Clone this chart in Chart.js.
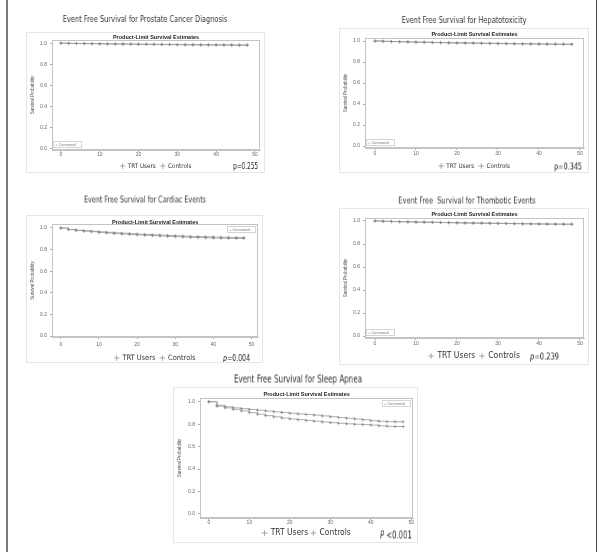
<!DOCTYPE html>
<html>
<head>
<meta charset="utf-8">
<script src="https://cdn.jsdelivr.net/npm/chart.js@4.4.1/dist/chart.umd.min.js"></script>
<style>
  body { margin: 0; background: #fff; }
  #page { position: relative; width: 597px; height: 552px; overflow: hidden; font-family: "DejaVu Sans Condensed", "Liberation Sans", sans-serif; }
  #edge { position: absolute; left: 6px; top: 0; width: 588px; height: 552px; border-left: 2px solid #7a7a7a; border-right: 1px solid #444; }
  .ttl { position: absolute; color: #333; white-space: nowrap; will-change: transform; }
  .pv { position: absolute; color: #222; white-space: nowrap; transform-origin: 0 50%; will-change: transform; }
  canvas { position: absolute; }
</style>
</head>
<body>
<div id="page"><div id="edge"></div></div>
<script>
const months = [0, 2, 4, 6, 8, 10, 12, 14, 16, 18, 20, 22, 24, 26, 28, 30, 32, 34, 36, 38, 40, 42, 44, 46, 48];
const xTicks = [0, 10, 20, 30, 40, 50];
const yTicks = [0, 0.2, 0.4, 0.6, 0.8, 1.0];
const seriesNames = ['TRT Users', 'Controls'];

const prostTrt = [1.000, 0.998, 0.997, 0.996, 0.995, 0.994, 0.993, 0.992, 0.991, 0.990, 0.989, 0.988, 0.988, 0.987, 0.986, 0.985, 0.985, 0.984, 0.983, 0.983, 0.982, 0.982, 0.981, 0.981, 0.981];
const prostCtl = [1.000, 0.998, 0.997, 0.996, 0.996, 0.995, 0.994, 0.993, 0.992, 0.991, 0.990, 0.990, 0.989, 0.988, 0.988, 0.987, 0.986, 0.986, 0.985, 0.985, 0.984, 0.984, 0.983, 0.983, 0.983];

const hepTrt = [1.000, 0.997, 0.995, 0.993, 0.991, 0.989, 0.987, 0.985, 0.984, 0.982, 0.981, 0.980, 0.979, 0.977, 0.976, 0.975, 0.974, 0.973, 0.972, 0.971, 0.970, 0.969, 0.968, 0.968, 0.968];
const hepCtl = [1.000, 0.997, 0.995, 0.994, 0.992, 0.990, 0.989, 0.987, 0.986, 0.984, 0.983, 0.982, 0.981, 0.980, 0.979, 0.978, 0.977, 0.976, 0.975, 0.974, 0.973, 0.972, 0.971, 0.971, 0.971];

const cardTrt = [1.000, 0.985, 0.977, 0.971, 0.965, 0.958, 0.953, 0.948, 0.944, 0.940, 0.936, 0.932, 0.929, 0.926, 0.922, 0.919, 0.916, 0.913, 0.911, 0.909, 0.907, 0.905, 0.904, 0.903, 0.903];
const cardCtl = [1.000, 0.987, 0.980, 0.975, 0.970, 0.965, 0.960, 0.955, 0.951, 0.947, 0.943, 0.940, 0.937, 0.934, 0.931, 0.928, 0.925, 0.922, 0.920, 0.918, 0.916, 0.914, 0.913, 0.912, 0.912];

const thrTrt = [1.000, 0.997, 0.995, 0.993, 0.992, 0.990, 0.989, 0.987, 0.986, 0.985, 0.983, 0.982, 0.981, 0.980, 0.979, 0.978, 0.977, 0.976, 0.975, 0.974, 0.973, 0.972, 0.971, 0.971, 0.971];
const thrCtl = [1.000, 0.998, 0.996, 0.994, 0.993, 0.991, 0.990, 0.989, 0.987, 0.986, 0.985, 0.984, 0.983, 0.982, 0.981, 0.980, 0.979, 0.978, 0.977, 0.976, 0.975, 0.974, 0.974, 0.973, 0.973];

const sleepTrt = [1.000, 0.960, 0.945, 0.932, 0.918, 0.903, 0.889, 0.876, 0.865, 0.855, 0.846, 0.840, 0.833, 0.826, 0.819, 0.813, 0.808, 0.803, 0.799, 0.796, 0.792, 0.785, 0.781, 0.779, 0.779];
const sleepCtl = [1.000, 0.968, 0.955, 0.945, 0.938, 0.931, 0.924, 0.917, 0.910, 0.903, 0.897, 0.891, 0.886, 0.880, 0.873, 0.866, 0.859, 0.853, 0.846, 0.839, 0.831, 0.826, 0.822, 0.821, 0.821];

const titles = [
  'Event Free Survival for Prostate Cancer Diagnosis',
  'Event Free Survival for Hepatotoxicity',
  'Event Free Survival for Cardiac Events',
  'Event Free\u00a0 Survival for Thombotic Events',
  'Event Free Survival for Sleep Apnea'
];
const pLabels = [['p', '=0.255'], ['p', '=0.345'], ['p', '=0.004'], ['p', '=0.239'], ['P', ' <0.001']];

const COND = '"DejaVu Sans Condensed", "Liberation Sans", sans-serif';
const SANS = '"Liberation Sans", Arial, sans-serif';
const LEG_GAP = 5;
const TICK_FONT = 5;

// frame box, plot area and text spots, all in page pixels
const panels = [
  { trt: prostTrt, ctl: prostCtl, frame: [26, 32, 239, 141], area: [52, 40, 260, 150], innerY: 37.3,
    x: [-2.3, 51.3], y: [-0.01, 1.03], xPad: 0, legY: 166, legSize: 6.3, corner: 'bl',
    tx: 145, ty: 19, tSize: 8.5, tw: 165, px: 233, py: 166, pSize: 9, pw: 25, pItalic: false },
  { trt: hepTrt, ctl: hepCtl, frame: [339, 28, 250, 145], area: [365, 38, 584, 148], innerY: 34,
    x: [-2.44, 50.98], y: [-0.019, 1.029], xPad: 1.5, legY: 166, legSize: 6.3, corner: 'bl',
    tx: 464, ty: 20, tSize: 8.5, tw: 125, px: 554, py: 166, pSize: 9.5, pw: 28, pItalic: false },
  { trt: cardTrt, ctl: cardCtl, frame: [26, 215, 237, 148], area: [52, 224, 262, 337], innerY: 222.7,
    x: [-2.32, 51.8], y: [-0.009, 1.037], xPad: 3.5, legY: 358, legSize: 7.4, corner: 'tr',
    tx: 145, ty: 200, tSize: 8, tw: 122, px: 223, py: 358, pSize: 9, pw: 27, pItalic: true },
  { trt: thrTrt, ctl: thrCtl, frame: [339, 208, 250, 157], area: [365, 218, 584, 338], innerY: 214.3,
    x: [-2.44, 50.98], y: [-0.017, 1.026], xPad: 1.5, legY: 356, legSize: 8.5, corner: 'bl',
    tx: 467, ty: 200, tSize: 9.5, tw: 137, px: 530, py: 356, pSize: 9.5, pw: 29, pItalic: true },
  { trt: sleepTrt, ctl: sleepCtl, frame: [173, 387, 245, 156], area: [200, 398, 415, 518], innerY: 394,
    x: [-2.2, 50.5], y: [-0.036, 1.033], xPad: 0, legY: 533, legSize: 8.4, corner: 'tr',
    tx: 298, ty: 379, tSize: 10, tw: 128, px: 380, py: 535, pSize: 11, pw: 32, pItalic: true }
];

const kmBox = {
  id: 'kmBox',
  afterDraw(chart, args, opts) {
    const { ctx, chartArea: a, width, height } = chart;
    ctx.save();
    ctx.lineWidth = 1;
    ctx.strokeStyle = '#e6e6e6';
    ctx.strokeRect(0.5, 0.5, width - 1, height - 1);
    ctx.strokeStyle = '#c4c4c4';
    ctx.strokeRect(Math.round(a.left) + 0.5, Math.round(a.top) + 0.5, Math.round(a.width) - 1, Math.round(a.height) - 1);
    // censored inset legend
    const w = 28, h = 6;
    let x = Math.round(a.left) + 1, y = Math.round(a.bottom) - h - 3;
    if (opts.corner === 'tr') { x = Math.round(a.right) - w - 3; y = Math.round(a.top) + 2; }
    ctx.strokeStyle = '#d4d4d4';
    ctx.strokeRect(x + 0.5, y + 0.5, w, h);
    ctx.fillStyle = '#777';
    ctx.font = '4px ' + SANS;
    ctx.textBaseline = 'middle';
    ctx.fillText('+ Censored', x + 2, y + h / 2 + 0.5);
    ctx.restore();
  }
};

const page = document.getElementById('page');

panels.forEach((p, i) => {
  const [fl, ft, fw, fh] = p.frame;
  const [al, at, ar, ab] = p.area;

  // outer heading, squeezed to the narrow look of the original
  const t = document.createElement('div');
  t.className = 'ttl';
  t.style.left = p.tx + 'px';
  t.style.top = p.ty + 'px';
  t.style.fontSize = p.tSize + 'px';
  t.textContent = titles[i];
  page.appendChild(t);
  const tk = p.tw / t.offsetWidth;
  t.style.transform = 'translate(-50%, -50%) scaleX(' + tk + ')';

  const pv = document.createElement('div');
  pv.className = 'pv';
  pv.style.left = p.px + 'px';
  pv.style.top = p.py + 'px';
  pv.style.fontSize = p.pSize + 'px';
  pv.innerHTML = (p.pItalic ? '<i>' + pLabels[i][0] + '</i>' : pLabels[i][0]) + pLabels[i][1].replace(' ', '&nbsp;');
  page.appendChild(pv);
  const pk = p.pw / pv.offsetWidth;
  pv.style.transform = 'translateY(-50%) scaleX(' + pk + ')';

  const cv = document.createElement('canvas');
  cv.width = fw; cv.height = fh;
  cv.style.left = fl + 'px'; cv.style.top = ft + 'px';
  cv.style.width = fw + 'px'; cv.style.height = fh + 'px';
  page.appendChild(cv);

  const titleLine = 5.5;
  const tp = (p.innerY - ft) - titleLine / 2;
  const pb = (at - ft) - tp - titleLine;
  // x scale must hold its labels (they are clipped to it); legend sits right below
  const xhMin = 2 + p.xPad + TICK_FONT + 0.5;
  const legTop = Math.max((ab - ft) + xhMin, (p.legY - ft) - LEG_GAP - p.legSize / 2);
  const legPad = (p.legY - ft) - legTop - p.legSize / 2;
  const xh = legTop - (ab - ft);

  const mk = (name, vals) => ({
    label: name,
    data: months.map((m, k) => ({ x: m, y: vals[k] })),
    stepped: true,
    borderColor: '#9a9a9a',
    borderWidth: 0.8,
    pointStyle: 'cross',
    pointRadius: 1.6,
    pointBorderColor: '#858585',
    pointBorderWidth: 0.7,
    fill: false
  });

  new Chart(cv, {
    type: 'line',
    data: { datasets: [mk(seriesNames[0], p.trt), mk(seriesNames[1], p.ctl)] },
    options: {
      responsive: false,
      animation: false,
      devicePixelRatio: 1,
      events: [],
      layout: { padding: { left: 0, right: fw - (ar - fl), top: 0, bottom: 0 } },
      plugins: {
        title: {
          display: true, text: 'Product-Limit Survival Estimates', fullSize: false,
          color: '#222', font: { family: SANS, size: 5.5, weight: 'bold', lineHeight: 1 },
          padding: { top: tp, bottom: pb }
        },
        legend: {
          position: 'bottom', fullSize: false, maxHeight: fh - legTop,
          labels: {
            usePointStyle: true, boxWidth: 4, boxHeight: 4, padding: legPad, color: '#333',
            font: { family: COND, size: p.legSize }
          }
        },
        tooltip: { enabled: false },
        kmBox: { corner: p.corner }
      },
      scales: {
        x: {
          type: 'linear', min: p.x[0], max: p.x[1],
          afterBuildTicks: s => { s.ticks = xTicks.map(v => ({ value: v })); },
          afterFit: s => { s.height = xh; },
          grid: { drawOnChartArea: false, tickLength: 2, color: '#aaa' },
          border: { color: '#c4c4c4' },
          ticks: { font: { family: SANS, size: TICK_FONT, lineHeight: 1 }, color: '#666', padding: p.xPad, maxRotation: 0, autoSkip: false }
        },
        y: {
          type: 'linear', min: p.y[0], max: p.y[1],
          afterBuildTicks: s => { s.ticks = yTicks.map(v => ({ value: v })); },
          afterFit: s => { s.width = al - fl; },
          grid: { drawOnChartArea: false, tickLength: 2, color: '#aaa' },
          border: { color: '#c4c4c4' },
          ticks: { font: { family: SANS, size: TICK_FONT }, color: '#666', padding: 3, callback: v => v.toFixed(1) },
          title: { display: true, text: 'Survival Probability', color: '#555', font: { family: SANS, size: 4.5 }, padding: { top: 4, bottom: 0 } }
        }
      }
    },
    plugins: [kmBox]
  });
});
</script>
</body>
</html>
